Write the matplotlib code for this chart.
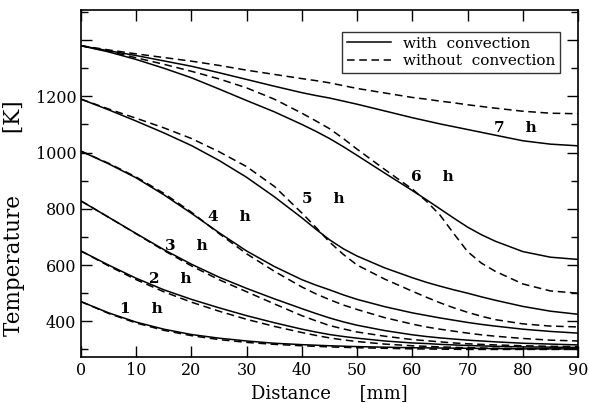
import numpy as np
import matplotlib.pyplot as plt

# distance along the sample [mm]
distance = [0, 5, 10, 15, 20, 25, 30, 35, 40, 42.5, 45, 47.5, 50, 55, 60,
            62.5, 65, 67.5, 70, 72.5, 75, 80, 85, 90]

# temperature [K] with convection
conv_1h = [470, 430, 397, 372, 353, 340, 330, 322, 317, 315, 313, 311.5, 310, 308, 306,
           305.5, 305, 304.5, 304, 303.5, 303, 302, 302, 302]
conv_2h = [650, 600, 553, 512, 478, 448, 420, 395, 372, 362, 353, 346, 340, 330, 323,
           321, 318, 316, 314, 312.5, 311, 309, 308, 307]
conv_3h = [828, 770, 712, 655, 603, 557, 517, 480, 445, 428, 412, 398, 386, 367, 352,
           346, 341, 337, 333, 330, 327, 322, 319, 316]
conv_4h = [1005, 960, 910, 850, 784, 715, 650, 595, 548, 529, 512, 494, 478, 452, 430,
           421, 412, 404, 396, 389, 383, 372, 364, 358]
conv_5h = [1190, 1152, 1112, 1070, 1025, 972, 912, 843, 768, 728, 690, 658, 632, 590, 555,
           539, 525, 512, 500, 487, 475, 453, 436, 425]
conv_6h = [1380, 1358, 1331, 1300, 1266, 1226, 1185, 1145, 1100, 1076, 1050, 1021, 990, 927, 865,
           833, 800, 767, 735, 708, 685, 648, 628, 620]
conv_7h = [1380, 1362, 1345, 1326, 1307, 1284, 1260, 1236, 1213, 1203, 1194, 1183, 1172, 1148, 1124,
           1113, 1102, 1092, 1082, 1072, 1062, 1042, 1030, 1024]

# temperature [K] without convection
noconv_1h = [470, 428, 394, 368, 349, 335, 325, 318, 313, 311, 309, 307.5, 306, 304, 302,
             301.5, 301, 300.5, 300, 300, 300, 300, 300, 300]
noconv_2h = [650, 597, 548, 505, 468, 436, 407, 382, 360, 350, 341, 334, 328, 319, 313,
             311, 309, 307.5, 306, 305, 304, 303, 302, 302]
noconv_3h = [828, 770, 711, 652, 597, 548, 505, 462, 420, 402, 385, 373, 362, 347, 335,
             331, 327, 323, 320, 318, 316, 313, 311, 310]
noconv_4h = [1005, 962, 913, 855, 788, 712, 640, 578, 522, 498, 477, 458, 442, 413, 390,
             380, 372, 365, 358, 352, 347, 339, 333, 330]
noconv_5h = [1190, 1155, 1122, 1088, 1050, 1003, 950, 880, 785, 735, 682, 638, 600, 550, 507,
             486, 466, 448, 432, 418, 406, 391, 383, 380]
noconv_6h = [1380, 1360, 1337, 1314, 1289, 1262, 1230, 1190, 1140, 1113, 1085, 1050, 1012, 940, 870,
             828, 778, 712, 648, 607, 578, 533, 508, 500]
noconv_7h = [1380, 1365, 1351, 1338, 1325, 1310, 1293, 1278, 1263, 1256, 1248, 1238, 1228, 1212, 1196,
             1190, 1183, 1177, 1170, 1164, 1158, 1147, 1140, 1138]

hour_labels = ['1    h', '2    h', '3    h', '4    h', '5    h', '6    h', '7    h']
label_x = [11.0, 16.1, 19.1, 26.9, 43.9, 63.6, 78.6]
label_y = [444, 550, 667, 770, 834, 914, 1087]

conv = [conv_1h, conv_2h, conv_3h, conv_4h, conv_5h, conv_6h, conv_7h]
noconv = [noconv_1h, noconv_2h, noconv_3h, noconv_4h, noconv_5h, noconv_6h, noconv_7h]

plt.rcParams['font.family'] = 'DejaVu Serif'

fig = plt.figure(figsize=(5.89, 4.03), dpi=100)
ax = fig.add_axes([0.1375, 0.1141, 0.8438, 0.8611])

for i in range(7):
    ax.plot(distance, conv[i], color='black', lw=1.1,
            label='with  convection' if i == 0 else None)
    ax.plot(distance, noconv[i], color='black', lw=1.1, ls=(0, (5, 3)),
            label='without  convection' if i == 0 else None)
    ax.text(label_x[i], label_y[i], hour_labels[i], ha='center', va='center',
            fontsize=11, fontweight='bold')

ax.set_xlim(0, 90)
ax.set_ylim(273, 1507)
ax.set_xticks(np.arange(0, 91, 10))
ax.set_yticks(np.arange(400, 1401, 200))
ax.set_yticklabels(['400', '600', '800', '1000', '1200', ''])
ax.set_yticks(np.arange(300, 1501, 200), minor=True)
ax.tick_params(which='both', direction='in', top=True, right=True, labelsize=11.5)
ax.tick_params(which='major', length=8, width=1)
ax.tick_params(which='minor', length=5, width=1)
for s in ax.spines.values():
    s.set_linewidth(1.2)

ax.set_xlabel('Distance     [mm]', fontsize=13, labelpad=4)
ax.set_ylabel('Temperature         [K]', fontsize=15.5)
ax.yaxis.set_label_coords(-0.112, 0.40)

leg = ax.legend(loc='upper right', bbox_to_anchor=(0.9638, 0.9366), borderaxespad=0,
                fontsize=11, handlelength=2.9, handletextpad=0.8, labelspacing=0.25,
                borderpad=0.3, fancybox=False, frameon=True)
leg.get_frame().set_edgecolor('black')
leg.get_frame().set_linewidth(1.0)

fig.savefig('out.png', dpi=100)
